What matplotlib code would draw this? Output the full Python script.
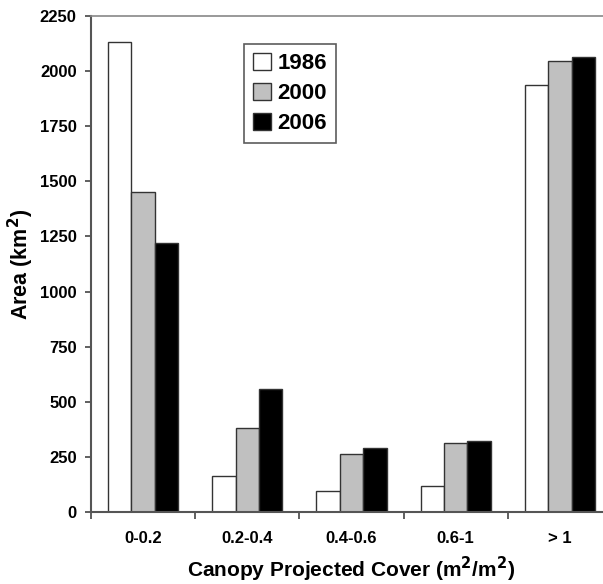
import matplotlib
matplotlib.use("Agg")
import matplotlib.pyplot as plt
import numpy as np

categories = ["0-0.2", "0.2-0.4", "0.4-0.6", "0.6-1", "> 1"]
years = ["1986", "2000", "2006"]
area_1986 = [2131, 162, 95, 118, 1936]
area_2000 = [1450, 379, 261, 311, 2046]
area_2006 = [1219, 557, 292, 321, 2066]
colors = ["white", "#c0c0c0", "black"]

plt.rcParams["font.family"] = ["Liberation Sans", "DejaVu Sans"]
plt.rcParams["font.weight"] = "bold"
plt.rcParams["mathtext.default"] = "bf"

fig = plt.figure(figsize=(6.03, 5.84), dpi=100)
ax = fig.add_axes([91 / 603, 1 - 512 / 584, 521 / 603, 496 / 584])

x = np.arange(len(categories))
width = 0.225
for i, (vals, year, c) in enumerate(zip([area_1986, area_2000, area_2006], years, colors)):
    ax.bar(x + (i - 1) * width, vals, width, color=c, edgecolor="#333333",
           linewidth=1.0, label=year)

ax.set_xlim(-0.5, len(categories) - 0.5)
ax.set_ylim(0, 2250)
ax.set_yticks(np.arange(0, 2251, 250))
ax.set_xticks(x)
ax.set_xticklabels(categories, fontsize=12, fontweight="bold")
ax.set_xticks(np.arange(-0.5, len(categories)), minor=True)
ax.tick_params(axis="x", which="major", length=0, pad=14)
ax.tick_params(axis="x", which="minor", length=5, width=1.2, color="#444444", direction="out")
ax.tick_params(axis="y", length=4.3, width=1.2, color="#444444", labelsize=12, pad=6)
for t in ax.get_yticklabels():
    t.set_fontweight("bold")

for side in ["left", "bottom"]:
    ax.spines[side].set_color("#555555")
    ax.spines[side].set_linewidth(1.5)
ax.spines["top"].set_color("#888888")
ax.spines["top"].set_linewidth(1.2)
ax.spines["right"].set_visible(False)

ax.set_ylabel("Area (km$^2$)", fontsize=15.5, fontweight="bold")
ax.yaxis.set_label_coords(-0.105, 0.5)
ax.set_xlabel("Canopy Projected Cover (m$^2$/m$^2$)", fontsize=15,
              fontweight="bold", labelpad=6)

leg = ax.legend(loc="upper left", bbox_to_anchor=(153 / 521, 1 - 28 / 496),
                prop={"size": 16, "weight": "bold"}, frameon=True, fancybox=False,
                handlelength=0.8, handleheight=0.8, handletextpad=0.3,
                labelspacing=0.4, borderpad=0.4, borderaxespad=0)
leg.get_frame().set_edgecolor("#333333")
leg.get_frame().set_linewidth(1.2)

fig.savefig("out.png", dpi=100)
